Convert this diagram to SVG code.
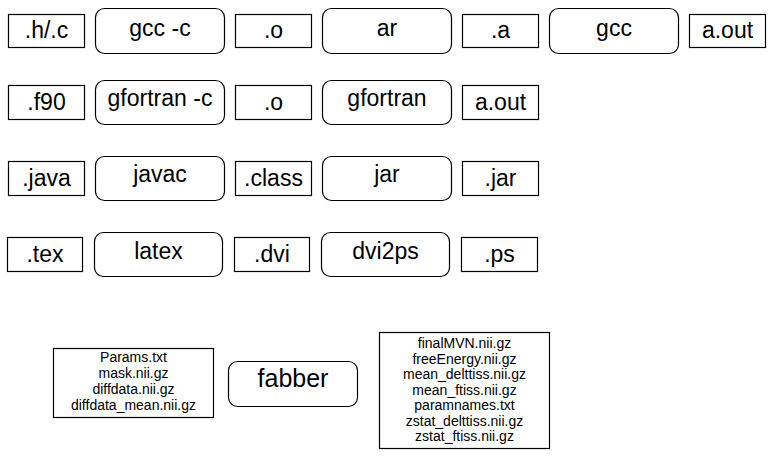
<svg xmlns="http://www.w3.org/2000/svg" width="773" height="458" viewBox="0 0 773 458">
<style>
.f{fill:#fff;stroke:#000;stroke-width:1.2}
.t{font-family:"Liberation Sans",Arial,sans-serif;font-size:23px;fill:#000;text-anchor:middle}
.s{font-family:"Liberation Sans",Arial,sans-serif;font-size:14px;fill:#000;text-anchor:middle}
.b{font-family:"Liberation Sans",Arial,sans-serif;font-size:25px;fill:#000;text-anchor:middle}
</style>
<rect width="773" height="458" fill="#fff"/>
<g id="connectors"></g>
<g id="hc"><rect class="f" x="8.5" y="14.5" width="76" height="33"/><text class="t" x="46.5" y="38">.h/.c</text></g>
<g id="gccc"><rect class="f" x="95.5" y="8.5" width="129" height="45" rx="9"/><text class="t" x="160" y="36">gcc -c</text></g>
<g id="o1"><rect class="f" x="235.5" y="14.5" width="76" height="33"/><text class="t" x="273.5" y="38">.o</text></g>
<g id="ar"><rect class="f" x="322.5" y="8.5" width="129" height="45" rx="9"/><text class="t" x="387" y="36">ar</text></g>
<g id="a"><rect class="f" x="462.5" y="14.5" width="76" height="33"/><text class="t" x="500.5" y="38">.a</text></g>
<g id="gcc"><rect class="f" x="549.5" y="8.5" width="129" height="45" rx="9"/><text class="t" x="614" y="36">gcc</text></g>
<g id="aout1"><rect class="f" x="689.5" y="14.5" width="76" height="33"/><text class="t" x="727.5" y="38">a.out</text></g>

<g id="f90"><rect class="f" x="8.5" y="85.5" width="76" height="34"/><text class="t" x="46.5" y="110">.f90</text></g>
<g id="gfortranc"><rect class="f" x="95.5" y="80.5" width="129" height="44" rx="9"/><text class="t" x="160" y="106">gfortran -c</text></g>
<g id="o2"><rect class="f" x="235.5" y="85.5" width="76" height="34"/><text class="t" x="273.5" y="110">.o</text></g>
<g id="gfortran"><rect class="f" x="322.5" y="80.5" width="129" height="44" rx="9"/><text class="t" x="387" y="106">gfortran</text></g>
<g id="aout2"><rect class="f" x="462.5" y="85.5" width="76" height="34"/><text class="t" x="500.5" y="110">a.out</text></g>

<g id="java"><rect class="f" x="8.5" y="161.5" width="76" height="34"/><text class="t" x="46.5" y="186">.java</text></g>
<g id="javac"><rect class="f" x="95.5" y="156.5" width="129" height="44" rx="9"/><text class="t" x="160" y="182">javac</text></g>
<g id="class"><rect class="f" x="235.5" y="161.5" width="76" height="34"/><text class="t" x="273.5" y="186">.class</text></g>
<g id="jar"><rect class="f" x="322.5" y="156.5" width="129" height="44" rx="9"/><text class="t" x="387" y="182">jar</text></g>
<g id="jarf"><rect class="f" x="462.5" y="161.5" width="76" height="34"/><text class="t" x="500.5" y="186">.jar</text></g>

<g id="tex"><rect class="f" x="7.5" y="237.5" width="75" height="34"/><text class="t" x="45" y="262">.tex</text></g>
<g id="latex"><rect class="f" x="94.5" y="232.5" width="128" height="44" rx="9"/><text class="t" x="158.5" y="259">latex</text></g>
<g id="dvi"><rect class="f" x="234.5" y="237.5" width="75" height="34"/><text class="t" x="272" y="262">.dvi</text></g>
<g id="dvi2ps"><rect class="f" x="321.5" y="232.5" width="128" height="44" rx="9"/><text class="t" x="385.5" y="259">dvi2ps</text></g>
<g id="ps"><rect class="f" x="461.5" y="237.5" width="76" height="34"/><text class="t" x="499.5" y="262">.ps</text></g>

<g id="inputs"><rect class="f" x="53.5" y="348.5" width="160" height="69"/>
<text class="s" x="133.5" y="362">Params.txt</text>
<text class="s" x="133.5" y="378">mask.nii.gz</text>
<text class="s" x="133.5" y="394">diffdata.nii.gz</text>
<text class="s" x="133.5" y="410">diffdata_mean.nii.gz</text></g>
<g id="fabber"><rect class="f" x="228.5" y="361.5" width="129" height="45" rx="9"/><text class="b" x="293" y="387">fabber</text></g>
<g id="outputs"><rect class="f" x="379.5" y="332.5" width="170" height="116"/>
<text class="s" x="464.5" y="348">finalMVN.nii.gz</text>
<text class="s" x="464.5" y="363.5">freeEnergy.nii.gz</text>
<text class="s" x="464.5" y="379">mean_delttiss.nii.gz</text>
<text class="s" x="464.5" y="394.5">mean_ftiss.nii.gz</text>
<text class="s" x="464.5" y="410">paramnames.txt</text>
<text class="s" x="464.5" y="425.5">zstat_delttiss.nii.gz</text>
<text class="s" x="464.5" y="441">zstat_ftiss.nii.gz</text></g>
</svg>
